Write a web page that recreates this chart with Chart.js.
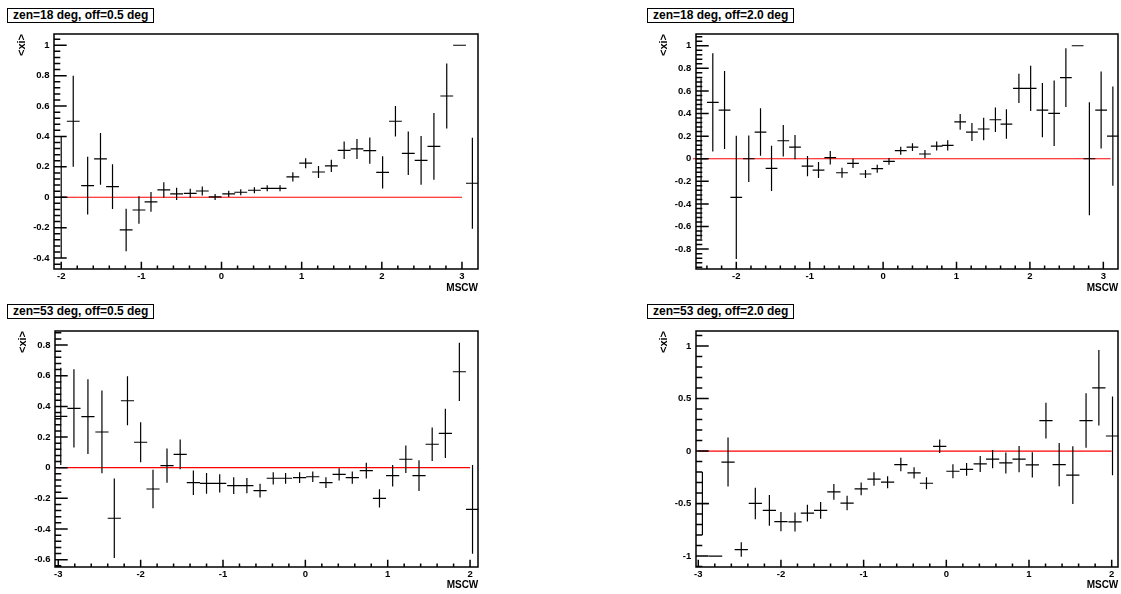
<!DOCTYPE html>
<html><head><meta charset="utf-8">
<script src="https://cdn.jsdelivr.net/npm/chart.js@4.4.1/dist/chart.umd.min.js"></script>
<style>
html,body{margin:0;padding:0;background:#fff;width:1121px;height:594px;overflow:hidden;}
canvas{position:absolute;}
canvas.ov{pointer-events:none;}
.t{position:absolute;border:1.5px solid #000;background:#fff;font:bold 12px "Liberation Sans",Arial,sans-serif;line-height:13px;padding:0 5px;white-space:nowrap;color:#000;}
</style></head><body>
<canvas id="c1" style="left:0;top:0" width="560" height="297"></canvas>
<canvas id="c2" style="left:560px;top:0" width="561" height="297"></canvas>
<canvas id="c3" style="left:0;top:297px" width="560" height="297"></canvas>
<canvas id="c4" style="left:560px;top:297px" width="561" height="297"></canvas>
<canvas id="c1o" class="ov" style="left:0;top:0" width="560" height="297"></canvas>
<canvas id="c2o" class="ov" style="left:560px;top:0" width="561" height="297"></canvas>
<canvas id="c3o" class="ov" style="left:0;top:297px" width="560" height="297"></canvas>
<canvas id="c4o" class="ov" style="left:560px;top:297px" width="561" height="297"></canvas>
<script>
const titles = ["zen=18 deg, off=0.5 deg", "zen=18 deg, off=2.0 deg", "zen=53 deg, off=0.5 deg", "zen=53 deg, off=2.0 deg"];
const xTitle = "MSCW";
const yTitle = "<xi>";

// panel 1: zen=18, off=0.5
const x1 = [-2.0, -1.85, -1.67, -1.51, -1.36, -1.19, -1.03, -0.88, -0.72, -0.56, -0.39, -0.24, -0.08, 0.09, 0.24, 0.41, 0.57, 0.73, 0.89, 1.05, 1.21, 1.37, 1.53, 1.69, 1.85, 2.01, 2.17, 2.33, 2.49, 2.65, 2.81, 2.97, 3.13];
const y1 = [0, 0.50, 0.076, 0.252, 0.07, -0.215, -0.084, -0.031, 0.048, 0.022, 0.026, 0.041, 0.002, 0.022, 0.033, 0.046, 0.059, 0.059, 0.134, 0.224, 0.166, 0.206, 0.309, 0.318, 0.307, 0.164, 0.5, 0.289, 0.243, 0.335, 0.666, 1.0, 0.092];
const e1 = [0.40, 0.30, 0.19, 0.17, 0.147, 0.14, 0.09, 0.065, 0.05, 0.04, 0.03, 0.03, 0.02, 0.02, 0.02, 0.02, 0.02, 0.02, 0.03, 0.033, 0.04, 0.04, 0.058, 0.066, 0.086, 0.106, 0.10, 0.143, 0.16, 0.22, 0.214, 0, 0.30];
const xTicks1 = [-2, -1, 0, 1, 2, 3];
const yTicks1 = [-0.4, -0.2, 0, 0.2, 0.4, 0.6, 0.8, 1];

// panel 2: zen=18, off=2.0
const x2 = [-2.48, -2.32, -2.16, -2.0, -1.83, -1.67, -1.52, -1.36, -1.20, -1.03, -0.88, -0.72, -0.56, -0.41, -0.24, -0.08, 0.08, 0.24, 0.40, 0.57, 0.73, 0.88, 1.05, 1.21, 1.37, 1.53, 1.68, 1.85, 2.01, 2.17, 2.33, 2.49, 2.65, 2.81, 2.97, 3.13];
const y2 = [0, 0.499, 0.431, -0.342, 0.0, 0.236, -0.085, 0.159, 0.103, -0.065, -0.1, 0.009, -0.124, -0.041, -0.135, -0.088, -0.023, 0.071, 0.103, 0.042, 0.112, 0.118, 0.327, 0.236, 0.263, 0.345, 0.307, 0.623, 0.623, 0.431, 0.402, 0.717, 1.0, 0.0, 0.431, 0.2];
const e2 = [0.71, 0.435, 0.345, 0.545, 0.205, 0.21, 0.2, 0.14, 0.108, 0.09, 0.07, 0.06, 0.045, 0.04, 0.035, 0.035, 0.03, 0.035, 0.035, 0.035, 0.04, 0.045, 0.07, 0.08, 0.1, 0.108, 0.13, 0.13, 0.2, 0.24, 0.29, 0.26, 0, 0.5, 0.34, 0.44];
const xTicks2 = [-2, -1, 0, 1, 2, 3];
const yTicks2 = [-0.8, -0.6, -0.4, -0.2, 0, 0.2, 0.4, 0.6, 0.8, 1];

// panel 3: zen=53, off=0.5
const x3 = [-2.97, -2.81, -2.64, -2.47, -2.32, -2.16, -2.0, -1.85, -1.68, -1.52, -1.36, -1.20, -1.04, -0.87, -0.71, -0.55, -0.39, -0.24, -0.07, 0.09, 0.25, 0.41, 0.57, 0.74, 0.90, 1.06, 1.22, 1.38, 1.54, 1.70, 1.87, 2.03];
const y3 = [0.335, 0.387, 0.333, 0.233, -0.33, 0.437, 0.166, -0.139, 0.013, 0.087, -0.098, -0.102, -0.102, -0.117, -0.117, -0.149, -0.069, -0.069, -0.065, -0.059, -0.098, -0.043, -0.065, -0.019, -0.2, -0.052, 0.055, -0.052, 0.153, 0.224, 0.626, -0.272];
const e3 = [0.317, 0.255, 0.244, 0.27, 0.26, 0.16, 0.13, 0.125, 0.112, 0.097, 0.08, 0.068, 0.06, 0.055, 0.05, 0.045, 0.04, 0.035, 0.035, 0.035, 0.035, 0.04, 0.04, 0.052, 0.06, 0.07, 0.09, 0.1, 0.11, 0.16, 0.19, 0.29];
const xTicks3 = [-3, -2, -1, 0, 1, 2];
const yTicks3 = [-0.6, -0.4, -0.2, 0, 0.2, 0.4, 0.6, 0.8];

// panel 4: zen=53, off=2.0
const x4 = [-2.95, -2.79, -2.64, -2.48, -2.31, -2.14, -2.0, -1.83, -1.68, -1.52, -1.36, -1.20, -1.03, -0.875, -0.71, -0.55, -0.39, -0.24, -0.08, 0.08, 0.245, 0.41, 0.56, 0.72, 0.88, 1.04, 1.205, 1.365, 1.53, 1.69, 1.845, 2.01];
const y4 = [-0.5, -1.0, -0.104, -0.938, -0.498, -0.565, -0.672, -0.675, -0.59, -0.565, -0.388, -0.495, -0.36, -0.266, -0.296, -0.128, -0.208, -0.306, 0.046, -0.192, -0.174, -0.122, -0.076, -0.113, -0.076, -0.131, 0.291, -0.128, -0.229, 0.291, 0.603, 0.144];
const e4 = [0.3, 0, 0.234, 0.069, 0.15, 0.147, 0.092, 0.09, 0.08, 0.08, 0.075, 0.069, 0.061, 0.064, 0.057, 0.064, 0.054, 0.057, 0.064, 0.066, 0.061, 0.076, 0.087, 0.1, 0.125, 0.12, 0.17, 0.206, 0.275, 0.26, 0.36, 0.375];
const xTicks4 = [-3, -2, -1, 0, 1, 2];
const yTicks4 = [-1, -0.5, 0, 0.5, 1];

const binHalf = 0.08;
const FONT = "'Liberation Sans', Arial, Helvetica, sans-serif";

const boxPos = [[7, 8], [647, 8], [7, 304], [647, 304]];
titles.forEach((t, i) => {
  const d = document.createElement('div');
  d.className = 't';
  d.style.left = boxPos[i][0] + 'px';
  d.style.top = boxPos[i][1] + 'px';
  d.textContent = t;
  document.body.appendChild(d);
});

function crosses(xs, ys, es) {
  const pts = [];
  for (let i = 0; i < xs.length; i++) {
    pts.push({x: xs[i] - binHalf, y: ys[i]}, {x: xs[i] + binHalf, y: ys[i]}, {x: xs[i], y: null});
    pts.push({x: xs[i], y: ys[i] - es[i]}, {x: xs[i], y: ys[i] + es[i]}, {x: xs[i], y: null});
  }
  return pts;
}

const fmt = v => String(+(+v).toFixed(2));
const decor = {};

// frame and inward ticks, drawn on an overlay canvas from the chart's own scales
function drawDecor(chart) {
  const o = decor[chart.canvas.id];
  const ov = document.getElementById(chart.canvas.id + 'o');
  const ctx = ov.getContext('2d');
  ctx.clearRect(0, 0, ov.width, ov.height);
  const a = chart.chartArea;
  const xs = chart.scales.x, ys = chart.scales.y;
  ctx.save();
  ctx.strokeStyle = '#000';
  ctx.lineWidth = 1.5;
  const L = Math.round(a.left), R = Math.round(a.right);
  const T = Math.round(a.top), B = Math.round(a.bottom);
  ctx.beginPath();
  ctx.rect(L, T, R - L, B - T);
  for (let k = Math.ceil(ys.min / o.yMinor - 1e-6); k * o.yMinor <= ys.max + 1e-9; k++) {
    const py = ys.getPixelForValue(k * o.yMinor);
    ctx.moveTo(L, py); ctx.lineTo(L + 6.3, py);
  }
  o.yMajor.forEach(v => {
    const py = ys.getPixelForValue(v);
    ctx.moveTo(L, py); ctx.lineTo(L + 12.7, py);
  });
  for (let k = Math.ceil(xs.min / o.xMinor - 1e-6); k * o.xMinor <= xs.max + 1e-9; k++) {
    const px = xs.getPixelForValue(k * o.xMinor);
    ctx.moveTo(px, B); ctx.lineTo(px, B - 3.6);
  }
  o.xMajor.forEach(v => {
    const px = xs.getPixelForValue(v);
    ctx.moveTo(px, B); ctx.lineTo(px, B - 7.2);
  });
  ctx.stroke();
  ctx.restore();
}

const framePlugin = { id: 'rootframe', afterDraw(chart) { drawDecor(chart); } };

function panel(id, cfg) {
  const cv = document.getElementById(id);
  const W = cv.width, H = cv.height;
  decor[id] = {yMajor: cfg.yt, yMinor: cfg.yMinor, xMajor: cfg.xt, xMinor: 0.2};
  new Chart(cv.getContext('2d'), {
    type: 'scatter',
    data: {
      datasets: [
        {data: crosses(cfg.x, cfg.y, cfg.e), showLine: true, borderColor: '#000', borderWidth: 1.2,
         pointRadius: 0, pointHoverRadius: 0, spanGaps: false, order: 0},
        {data: [{x: cfg.red[0], y: 0}, {x: cfg.red[1], y: 0}], showLine: true, borderColor: '#ff0000',
         borderWidth: 1.2, pointRadius: 0, pointHoverRadius: 0, order: 1, clip: cfg.redClip}
      ]
    },
    options: {
      responsive: false, animation: false, devicePixelRatio: 1, events: [],
      layout: {padding: {left: cfg.fl - 40, right: W - cfg.fr, top: cfg.ft, bottom: 0}},
      plugins: {legend: {display: false}, tooltip: {enabled: false}},
      scales: {
        x: {
          type: 'linear', min: cfg.xr[0], max: cfg.xr[1],
          grid: {display: false, drawTicks: false, tickLength: 0}, border: {display: false},
          afterBuildTicks: s => { s.ticks = cfg.xt.map(v => ({value: v})); },
          afterFit: s => { s.height = H - cfg.fb; },
          ticks: {autoSkip: false, maxRotation: 0, minRotation: 0, padding: 2, color: '#000',
                  font: {family: FONT, weight: 'bold', size: 9.5}, callback: v => fmt(v)},
          title: {display: true, text: xTitle, align: 'end', color: '#000',
                  font: {family: FONT, weight: 'bold', size: 10}, padding: {top: 0, bottom: 2.3}}
        },
        y: {
          type: 'linear', min: cfg.yr[0], max: cfg.yr[1],
          grid: {display: false, drawTicks: false, tickLength: 0}, border: {display: false},
          afterBuildTicks: s => { s.ticks = cfg.yt.map(v => ({value: v})); },
          afterFit: s => { s.width = 40; },
          ticks: {autoSkip: false, padding: 4.5, color: '#000',
                  font: {family: FONT, weight: 'bold', size: 9.5}, callback: v => fmt(v)},
          title: {display: true, text: yTitle, align: 'end', color: '#000',
                  font: {family: FONT, weight: 'bold', size: 11}, padding: {top: 1.4, bottom: 0}}
        }
      }
    },
    plugins: [framePlugin]
  });
}

panel('c1', {x: x1, y: y1, e: e1, xt: xTicks1, yt: yTicks1, xr: [-2.09, 3.2], yr: [-0.472, 1.074],
  yMinor: 0.04, red: [-2.0, 3.0], redClip: undefined, fl: 54, fr: 478, ft: 34, fb: 269});
panel('c2', {x: x2, y: y2, e: e2, xt: xTicks2, yt: yTicks2, xr: [-2.553, 3.204], yr: [-0.976, 1.104],
  yMinor: 0.04, red: [-2.59, 3.1], redClip: false, fl: 135.7, fr: 558.3, ft: 34, fb: 269});
panel('c3', {x: x3, y: y3, e: e3, xt: xTicks3, yt: yTicks3, xr: [-3.04, 2.1], yr: [-0.646, 0.892],
  yMinor: 0.04, red: [-3.0, 2.0], redClip: undefined, fl: 55, fr: 478.3, ft: 34, fb: 269.7});
panel('c4', {x: x4, y: y4, e: e4, xt: xTicks4, yt: yTicks4, xr: [-3.031, 2.08], yr: [-1.101, 1.144],
  yMinor: 0.1, red: [-3.0, 2.0], redClip: undefined, fl: 135.7, fr: 558.3, ft: 34, fb: 269.7});
</script>
</body></html>
